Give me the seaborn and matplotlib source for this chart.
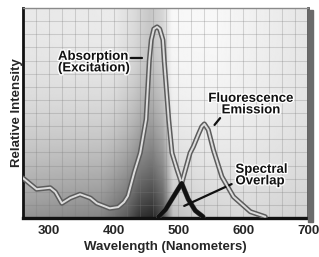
import seaborn as sns
import matplotlib.pyplot as plt
import matplotlib.patheffects as pe
import numpy as np

# Values
ABS_NM = [260, 281, 302, 310, 320, 333, 348, 364, 374, 394, 407, 416, 422, 425,
          432, 441, 450, 455, 458, 462, 467, 471, 476, 478, 485, 490, 498, 505, 515, 526, 538]
ABS_I = [0.19, 0.137, 0.144, 0.124, 0.07, 0.095, 0.113, 0.095, 0.07, 0.046, 0.052, 0.076, 0.105, 0.14,
         0.22, 0.31, 0.47, 0.75, 0.848, 0.90, 0.91, 0.90, 0.848, 0.75, 0.467, 0.31, 0.229, 0.165, 0.09, 0.035, 0.006]
EM_NM = [469, 480, 490, 505, 518, 523, 531, 536, 540, 546, 554, 567, 585, 611, 634]
EM_I = [0.005, 0.04, 0.09, 0.165, 0.31, 0.34, 0.40, 0.435, 0.448, 0.42, 0.324, 0.197, 0.101, 0.03, 0.006]
OVERLAP_NM = 505
X_TICKS = [300, 400, 500, 600, 700]

INK = "#111111"
TUBE_DARK = "#5c5c5c"
TUBE_LIGHT = "#dcdcdc"

sns.set_style("white")
plt.rcParams['font.family'] = ['Liberation Sans', 'DejaVu Sans']
plt.rcParams['font.weight'] = 'bold'

fig = plt.figure(figsize=(3.19, 2.57), dpi=100)
fig.patch.set_facecolor("white")
ax = fig.add_axes([23 / 319, 39 / 257, 285 / 319, 210 / 257])

# gradient backdrop (grayscale spectrum feel)
gx = np.linspace(260, 700, 300)
top = np.interp(gx, [260, 400, 430, 456, 476, 490, 560, 620, 700],
                [0.91, 0.92, 0.86, 0.78, 0.84, 0.97, 0.97, 0.94, 0.90])
bot = np.interp(gx, [260, 380, 420, 440, 460, 476, 492, 540, 600, 700],
                [0.58, 0.52, 0.36, 0.20, 0.15, 0.30, 0.75, 0.82, 0.85, 0.82])
gy = np.linspace(0, 1, 200)
w = (1 - gy[:, None]) ** 2.2
img = top[None, :] + (bot - top)[None, :] * w
ax.imshow(img, extent=(260, 700, 0, 1), origin="lower", aspect="auto",
          cmap="gray", vmin=0, vmax=1, zorder=0)

# fine grid, drawn by hand
for gxv in np.arange(280, 700, 20):
    ax.axvline(gxv, color="#7a7a7a", alpha=0.28, lw=0.75, zorder=1)
for gyv in np.linspace(0, 1, 17)[1:-1]:
    ax.axhline(gyv, color="#7a7a7a", alpha=0.28, lw=0.75, zorder=1)

# curves drawn as a grey tube
for xs, ys in [(ABS_NM, ABS_I), (EM_NM, EM_I)]:
    sns.lineplot(x=xs, y=ys, ax=ax, color=TUBE_DARK, lw=3.6, zorder=3, sort=False)
    sns.lineplot(x=xs, y=ys, ax=ax, color=TUBE_LIGHT, lw=1.4, zorder=4, sort=False)

# overlap part in black
abs_nm = np.array(ABS_NM)
em_nm = np.array(EM_NM)
ov_a = abs_nm >= OVERLAP_NM
ov_e = em_nm <= OVERLAP_NM
sns.lineplot(x=abs_nm[ov_a], y=np.array(ABS_I)[ov_a], ax=ax, color=INK, lw=3.0, zorder=5, sort=False)
sns.lineplot(x=em_nm[ov_e], y=np.array(EM_I)[ov_e], ax=ax, color=INK, lw=3.0, zorder=5, sort=False)

ax.set_xlim(260, 700)
ax.set_ylim(0, 1)
ax.set_xticks(X_TICKS)
ax.set_xticklabels([str(t) for t in X_TICKS])
ax.set_yticks([])
ax.tick_params(axis="x", which="major", direction="in", length=5, width=1.5,
               color=INK, pad=5, labelsize=9.5)
for lbl in ax.get_xticklabels():
    lbl.set_fontweight("bold")

ax.set_xlabel("Wavelength (Nanometers)", fontsize=9.5, fontweight="bold", labelpad=3)
ax.set_ylabel("Relative Intensity", fontsize=9.5, fontweight="bold", labelpad=0)

ax.spines["left"].set_linewidth(2)
ax.spines["left"].set_color(INK)
ax.spines["bottom"].set_linewidth(2.4)
ax.spines["bottom"].set_color(INK)
ax.spines["top"].set_linewidth(1)
ax.spines["top"].set_color("#8a8a8a")
ax.spines["right"].set_linewidth(2)
ax.spines["right"].set_color("#555555")

# panel shadow on the right
fig.patches.append(plt.Rectangle((308 / 319, 35 / 257), 5 / 319, 212 / 257,
                                 transform=fig.transFigure, color="#6a6a6a", zorder=0))

halo = [pe.withStroke(linewidth=2, foreground="white")]
tk = dict(fontsize=9.5, fontweight="bold", color=INK, path_effects=halo, zorder=6)
ax.text(314, 0.74, "Absorption\n(Excitation)", ha="left", va="center", linespacing=0.95, **tk)
ax.annotate("", xy=(448, 0.762), xytext=(422, 0.762),
            arrowprops=dict(arrowstyle="-", lw=1.6, color=INK))
ax.text(612, 0.54, "Fluorescence\nEmission", ha="center", va="center", linespacing=0.95, **tk)
ax.annotate("", xy=(553, 0.433), xytext=(567, 0.486),
            arrowprops=dict(arrowstyle="-", lw=1.6, color=INK))
ax.text(588, 0.202, "Spectral\nOverlap", ha="left", va="center", linespacing=0.95, **tk)
ax.annotate("", xy=(505, 0.052), xytext=(586, 0.167),
            arrowprops=dict(arrowstyle="-", lw=1.6, color=INK))

fig.savefig("out.png", dpi=100, facecolor="white")
